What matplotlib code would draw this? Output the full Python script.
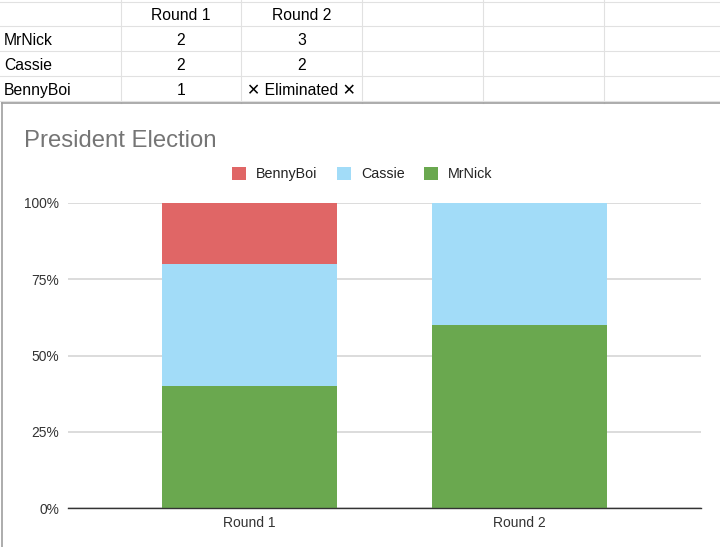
import matplotlib
matplotlib.use("Agg")
import matplotlib.pyplot as plt
from matplotlib.lines import Line2D
from matplotlib.patches import Patch
import numpy as np

plt.rcParams['font.family'] = ['Liberation Sans', 'DejaVu Sans']

# ---- data ----
categories = ['Round 1', 'Round 2']
candidates = ['MrNick', 'Cassie', 'BennyBoi']
mrnick = [2, 3]
cassie = [2, 2]
bennyboi = [1, 0]
table_cells = [['2', '3'], ['2', '2'], ['1', '\u2715 Eliminated \u2715']]
yticks = [0, 0.25, 0.5, 0.75, 1.0]
ytick_labels = ['0%', '25%', '50%', '75%', '100%']
title = 'President Election'

colors = {'MrNick': '#6aa84f', 'Cassie': '#a2dcf8', 'BennyBoi': '#e06666'}

W, H = 720, 547
fig = plt.figure(figsize=(W / 100, H / 100), dpi=100)
fig.patch.set_facecolor('white')

def fx(x):
    return x / W

def fy(y):
    return 1 - y / H

# ---- spreadsheet grid ----
grid_c = '#e1e1e1'
col_lines = [121, 241, 362, 483, 604]
row_lines = [1.7, 26, 50.7, 76, 100.7]
for x in col_lines:
    fig.add_artist(Line2D([fx(x), fx(x)], [fy(0), fy(103)], color=grid_c, lw=0.8))
for y in row_lines:
    fig.add_artist(Line2D([0, 1], [fy(y), fy(y)], color=grid_c, lw=0.8))

tfs = 11.3
col_centers = [181, 301.5]
row_centers = [40.5, 65.5, 90.5]
for c, name in zip(col_centers, categories):
    fig.text(fx(c), fy(15.5), name, ha='center', va='center', fontsize=tfs, color='black')
for r, name, vals in zip(row_centers, candidates, table_cells):
    fig.text(fx(4), fy(r), name, ha='left', va='center', fontsize=tfs, color='black')
    for c, v in zip(col_centers, vals):
        fig.text(fx(c), fy(r), v, ha='center', va='center', fontsize=tfs, color='black')

# ---- chart frame ----
fig.add_artist(Line2D([fx(1.5), 1], [fy(103.3), fy(103.3)], color='#9e9e9e', lw=1.2))
fig.add_artist(Line2D([fx(1.5), fx(1.5)], [fy(103.3), 0], color='#9e9e9e', lw=1.2))

fig.text(fx(24), fy(147), title, ha='left', va='baseline', fontsize=17.2, color='#757575')

# ---- chart ----
ax = fig.add_axes([fx(68), fy(508), (701 - 68) / W, (508 - 203) / H])
series = {'MrNick': mrnick, 'Cassie': cassie, 'BennyBoi': bennyboi}
totals = np.array(mrnick) + np.array(cassie) + np.array(bennyboi)
x = np.arange(len(categories))
bottom = np.zeros(len(categories))
for name in candidates:
    share = np.array(series[name]) / totals
    ax.bar(x, share, bottom=bottom, width=0.65, color=colors[name], zorder=3, linewidth=0)
    bottom += share

ax.set_xlim(-0.674, 1.674)
ax.set_ylim(0, 1)
ax.set_yticks(yticks)
ax.set_yticklabels(ytick_labels)
ax.set_xticks(x)
ax.set_xticklabels(categories)
ax.tick_params(axis='y', length=0, pad=6.5, labelsize=9.9, labelcolor='#333333')
ax.tick_params(axis='x', length=0, pad=5.5, labelsize=10, labelcolor='#333333')
for s in ['top', 'right', 'left']:
    ax.spines[s].set_visible(False)
ax.spines['bottom'].set_color('#333333')
ax.spines['bottom'].set_linewidth(1.0)
ax.spines['bottom'].set_zorder(4)
ax.yaxis.grid(True, color='#d9d9d9', lw=1.3, zorder=0)
ax.set_axisbelow(True)

handles = [Patch(facecolor=colors[n], edgecolor='none', label=n) for n in ['BennyBoi', 'Cassie', 'MrNick']]
fig.legend(handles=handles, loc='center left', bbox_to_anchor=(fx(232), fy(174)),
           ncol=3, frameon=False, fontsize=10.3, handlelength=1.0, handleheight=1.0,
           handletextpad=0.7, columnspacing=1.33, borderpad=0, borderaxespad=0,
           labelcolor='#222222')

fig.savefig('out.png', dpi=100, facecolor='white')
